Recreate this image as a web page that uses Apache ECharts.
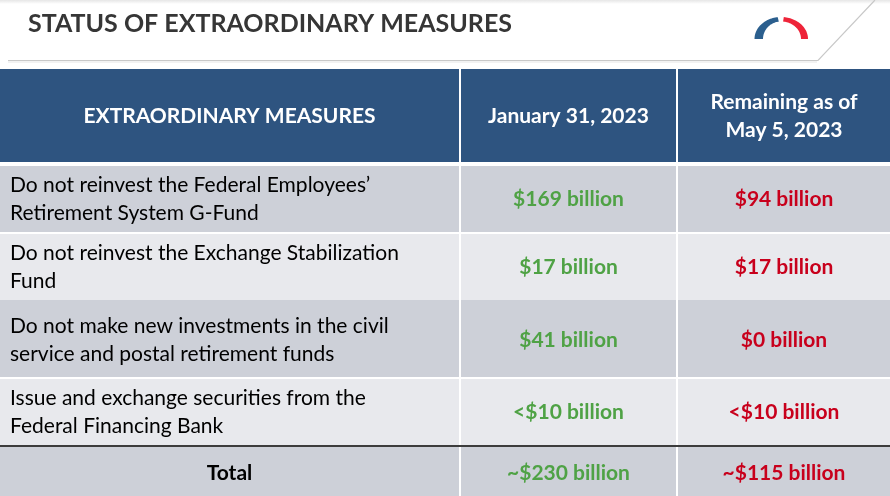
<!DOCTYPE html>
<html><head><meta charset="utf-8">
<script src="https://cdn.jsdelivr.net/npm/echarts@6/dist/echarts.min.js"></script>
<style>html,body{margin:0;padding:0;background:#fff}#c{width:890px;height:496px}</style>
</head><body><div id="c"></div><script>
// ---- data ----
const titleText = 'STATUS OF EXTRAORDINARY MEASURES';
const columns = ['EXTRAORDINARY MEASURES', 'January 31, 2023', 'Remaining as of\nMay 5, 2023'];
const measures = [
  'Do not reinvest the Federal Employees\u2019\nRetirement System G-Fund',
  'Do not reinvest the Exchange Stabilization\nFund',
  'Do not make new investments in the civil\nservice and postal retirement funds',
  'Issue and exchange securities from the\nFederal Financing Bank',
  'Total'
];
const jan31 = ['$169 billion', '$17 billion', '$41 billion', '<$10 billion', '~$230 billion'];
const may5 = ['$94 billion', '$17 billion', '$0 billion', '<$10 billion', '~$115 billion'];

// ---- layout / style ----
const FONT = 'Lato, "Open Sans", sans-serif';
const COL_L = [0, 461, 678];
const COL_R = [459, 676, 890];
const ROW_T = [69, 166, 234, 300, 379, 447];
const ROW_B = [162, 232, 300, 377, 445, 496];
const ROW_DY = [1, 0, 0, 2, 0, 2];
const HEADER_BG = '#2e5480';
const DARK_BG = '#cdd0d8';
const LIGHT_BG = '#e8e9ed';
const GREEN = '#4fa245';
const RED = '#c8001c';

const rowCats = ['header'].concat(measures);
const cells = [];
for (let r = 0; r < rowCats.length; r++) {
  for (let c = 0; c < columns.length; c++) {
    let txt;
    if (r === 0) txt = columns[c];
    else if (c === 0) txt = measures[r - 1];
    else if (c === 1) txt = jan31[r - 1];
    else txt = may5[r - 1];
    cells.push([c, r, txt]);
  }
}

function renderItem(params, api) {
  const c = api.value(0), r = api.value(1);
  const txt = cells[params.dataIndex][2];
  const cs = params.coordSys;
  const x0 = cs.x + COL_L[c], x1 = cs.x + COL_R[c];
  const y0 = cs.y + ROW_T[r], y1 = cs.y + ROW_B[r];
  const isTotal = r === rowCats.length - 1;
  let bg = r === 0 ? HEADER_BG : (r % 2 === 1 ? DARK_BG : LIGHT_BG);
  let fill = '#000', weight = 'normal', size = 21, align = 'center', tx = (x0 + x1) / 2;
  if (r === 0) { fill = '#fff'; weight = 'bold'; size = 21; }
  else if (c === 0) {
    if (isTotal) { weight = 'bold'; }
    else { align = 'left'; tx = x0 + 10; }
  } else { weight = 'bold'; fill = c === 1 ? GREEN : RED; size = 21; }
  const children = [
    { type: 'rect', shape: { x: x0, y: y0, width: x1 - x0, height: y1 - y0 }, style: { fill: bg } },
    { type: 'text', style: { text: txt, x: tx, y: (y0 + y1) / 2 + ROW_DY[r], align: align, verticalAlign: 'middle',
      fill: fill, fontFamily: FONT, fontWeight: weight, fontSize: size, lineHeight: 28 } }
  ];
  if (isTotal && c === 0) {
    children.push({ type: 'rect', shape: { x: cs.x, y: y0 - 2, width: cs.width, height: 2 }, style: { fill: '#3c3c3c' } });
  }
  return { type: 'group', children: children };
}

// logo arch
function archPts(cx, cy, rxo, ryo, rxi, ryi, a0, a1) {
  const pts = [];
  const n = 30;
  for (let i = 0; i <= n; i++) { const t = (a0 + (a1 - a0) * i / n) * Math.PI / 180; pts.push([cx + rxo * Math.cos(t), cy - ryo * Math.sin(t)]); }
  for (let i = n; i >= 0; i--) { const t = (a0 + (a1 - a0) * i / n) * Math.PI / 180; pts.push([cx + rxi * Math.cos(t), cy - ryi * Math.sin(t)]); }
  return pts;
}

const chart = echarts.init(document.getElementById('c'), null, { renderer: 'canvas' });
chart.setOption({
  backgroundColor: '#fff',
  animation: false,
  title: { text: titleText, left: 23, top: 6,
    textStyle: { fontFamily: FONT, fontWeight: 'bold', fontSize: 25, color: '#363636' } },
  grid: { left: 0, right: 0, top: 0, bottom: 0 },
  xAxis: { type: 'category', data: columns, show: false },
  yAxis: { type: 'category', data: rowCats, inverse: true, show: false },
  graphic: [
    { type: 'rect', shape: { x: 0, y: 0, width: 890, height: 4 },
      style: { fill: new echarts.graphic.LinearGradient(0, 0, 0, 1, [{ offset: 0, color: '#e6e6e6' }, { offset: 1, color: '#ffffff' }]) }, z: -1 },
    { type: 'polyline', shape: { points: [[8, 60.5], [818, 60.5], [875, 0]] }, style: { stroke: '#c8c8c8', lineWidth: 1.2, fill: null } },
    { type: 'line', shape: { x1: 8, y1: 62, x2: 817, y2: 62 }, style: { stroke: '#eeeeee', lineWidth: 1.5 } },
    { type: 'polygon', shape: { points: archPts(781, 39, 26.5, 22, 18, 17.5, 97, 180) }, style: { fill: '#2b5f8e' } },
    { type: 'polygon', shape: { points: archPts(781, 39, 27, 22, 20, 17.5, 0, 84) }, style: { fill: '#ee2439' } }
  ],
  series: [{
    type: 'custom',
    renderItem: renderItem,
    data: cells.map(d => [d[0], d[1]]),
    silent: true
  }]
});
</script></body></html>
